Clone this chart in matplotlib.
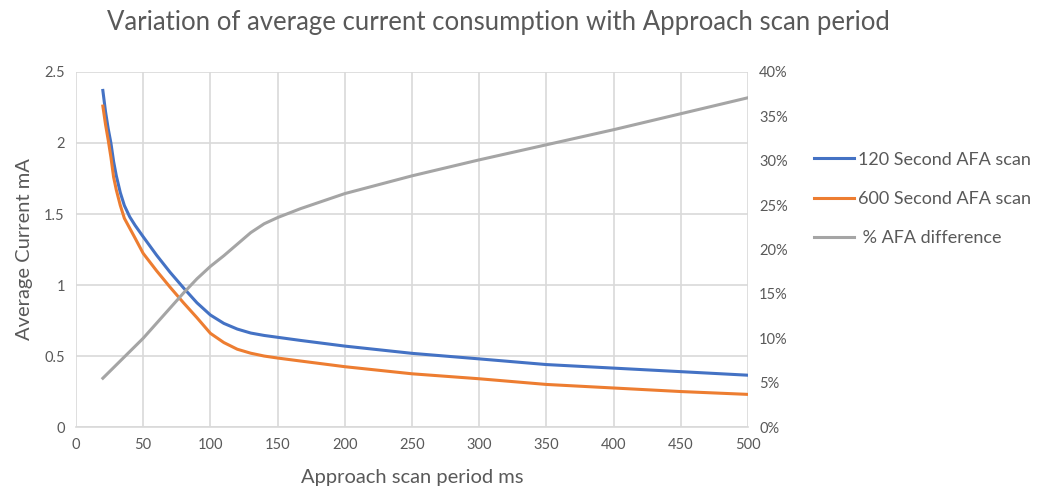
import matplotlib
matplotlib.use("Agg")
import matplotlib.pyplot as plt
from matplotlib.ticker import FuncFormatter

plt.rcParams['font.family'] = ['Lato', 'DejaVu Sans']

# --- data ---
period = [20, 22, 24, 26, 28, 30, 33, 36, 40, 44, 50, 60, 70, 80, 90, 100, 110, 120, 130,
          140, 150, 167, 200, 250, 300, 350, 400, 450, 500]
current_120 = [2.37, 2.22, 2.10, 2.00, 1.87, 1.77, 1.65, 1.56, 1.48, 1.42, 1.34, 1.21, 1.09,
               0.98, 0.875, 0.789, 0.73, 0.69, 0.662, 0.645, 0.632, 0.61, 0.57, 0.519, 0.48,
               0.44, 0.415, 0.39, 0.365]
current_600 = [2.26, 2.13, 2.02, 1.90, 1.76, 1.67, 1.56, 1.47, 1.40, 1.33, 1.223, 1.10, 0.985,
               0.875, 0.77, 0.66, 0.595, 0.548, 0.52, 0.50, 0.486, 0.465, 0.425, 0.375, 0.34,
               0.30, 0.275, 0.25, 0.23]
pct_diff = [5.5, 5.8, 6.1, 6.4, 6.7, 7.0, 7.45, 7.9, 8.5, 9.1, 10.0, 11.7, 13.4, 15.1, 16.7,
            18.1, 19.3, 20.6, 21.9, 22.9, 23.6, 24.6, 26.3, 28.3, 30.1, 31.8, 33.5, 35.3, 37.1]

TXT = '#595959'
GRID = '#d9d9d9'

fig = plt.figure(figsize=(10.42, 4.92), dpi=100)
ax = fig.add_axes([0.0729, 0.132, 0.645, 0.7217])
ax2 = ax.twinx()

l1, = ax.plot(period, current_120, color='#4472C4', lw=2.2, label='120 Second AFA scan')
l2, = ax.plot(period, current_600, color='#ED7D31', lw=2.2, label='600 Second AFA scan')
l3, = ax2.plot(period, pct_diff, color='#A5A5A5', lw=2.2, label=' % AFA difference')

ax.set_xlim(0, 500)
ax.set_ylim(0, 2.5)
ax.set_xticks(range(0, 501, 50))
ax.set_yticks([0, 0.5, 1, 1.5, 2, 2.5])
ax.yaxis.set_major_formatter(FuncFormatter(lambda v, p: f'{v:g}'))
ax2.set_ylim(0, 40)
ax2.set_yticks(range(0, 41, 5))
ax2.yaxis.set_major_formatter(FuncFormatter(lambda v, p: f'{v:.0f}%'))

ax.grid(True, color=GRID, lw=1.2)
ax.set_axisbelow(True)
for a in (ax, ax2):
    for s in a.spines.values():
        s.set_visible(False)
    a.tick_params(length=0, labelsize=10.5, colors=TXT, pad=8)
ax.spines['bottom'].set_visible(True)
ax.spines['bottom'].set_color(GRID)
ax.spines['bottom'].set_linewidth(1.2)

ax.set_xlabel('Approach scan period ms', fontsize=14.5, color=TXT, labelpad=12)
ax.set_ylabel('Average Current mA', fontsize=14.5, color=TXT, labelpad=8)
fig.text(0.478, 0.955, 'Variation of average current consumption with Approach scan period',
         ha='center', va='center', fontsize=18.5, color=TXT)

fig.legend(handles=[l1, l2, l3], loc='upper left', bbox_to_anchor=(0.766, 0.725),
           frameon=False, fontsize=13, labelcolor=TXT, handlelength=2.2,
           handletextpad=0.2, labelspacing=1.3)

fig.savefig('out.png', dpi=100)
